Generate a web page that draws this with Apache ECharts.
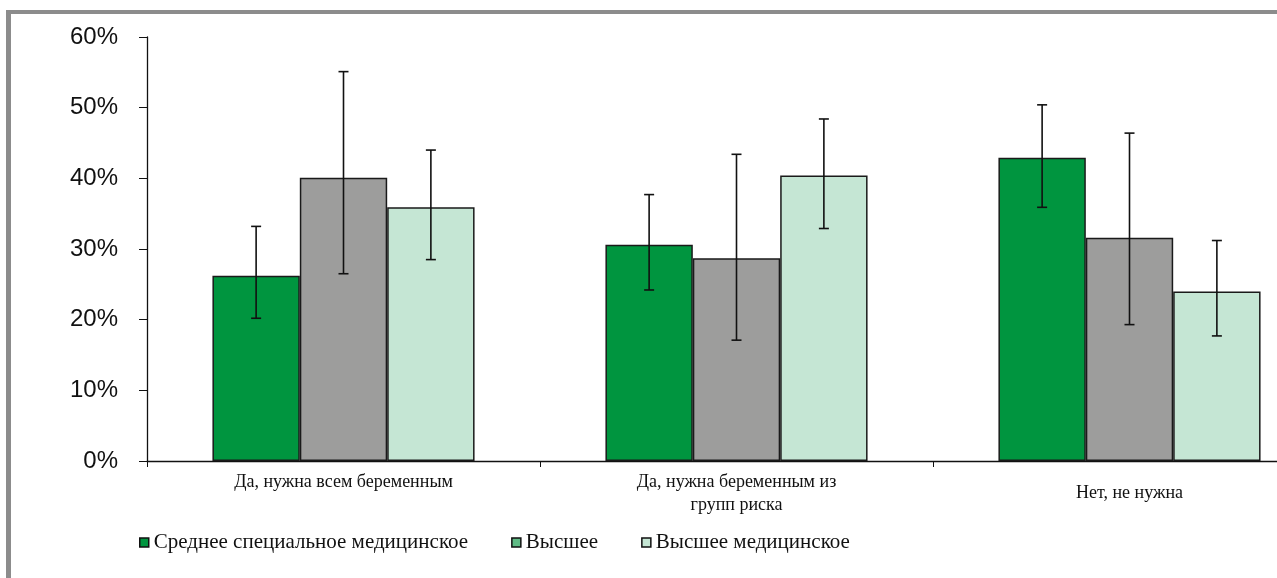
<!DOCTYPE html>
<html>
<head>
<meta charset="utf-8">
<script src="https://cdn.jsdelivr.net/npm/echarts@6/dist/echarts.min.js"></script>
<style>
  html, body { margin: 0; padding: 0; background: #fff; }
  #chart { width: 1277px; height: 578px; }
</style>
</head>
<body>
<div id="chart"></div>
<script>
// категории ответов
var categories = ['Да, нужна всем беременным', 'Да, нужна беременным из\nгрупп риска', 'Нет, не нужна'];
var seriesNames = ['Среднее специальное медицинское', 'Высшее', 'Высшее медицинское'];

// доли, %
var sredneeVals = [26.2, 30.6, 42.9];
var vyssheeVals = [40.1, 28.7, 31.6];
var vysMedVals  = [35.9, 40.4, 24.0];

// доверительные интервалы (низ, верх), %
var sredneeLow  = [20.2, 24.2, 35.9];
var sredneeHigh = [33.2, 37.7, 50.4];
var vyssheeLow  = [26.5, 17.1, 19.3];
var vyssheeHigh = [55.1, 43.4, 46.4];
var vysMedLow   = [28.5, 32.9, 17.7];
var vysMedHigh  = [44.0, 48.4, 31.2];

var yTicks = [0, 10, 20, 30, 40, 50, 60];

var colors = ['#00953f', '#9d9d9c', '#c5e6d4'];
var gapRatio = 0.333;

var chart = echarts.init(document.getElementById('chart'));

function errSeries(idx, lows, highs) {
    var data = [];
    for (var i = 0; i < lows.length; i++) {
        data.push([i, lows[i], highs[i]]);
    }
    return {
        type: 'custom',
        name: seriesNames[idx] + ' ош',
        silent: true,
        z: 10,
        clip: false,
        data: data,
        renderItem: function (params, api) {
            var cat = api.value(0);
            var catW = api.size([1, 0])[0];
            var barW = catW * (1 - gapRatio) / 3;
            var top = api.coord([cat, api.value(2)]);
            var bot = api.coord([cat, api.value(1)]);
            var x = top[0] + (idx - 1) * barW;
            var cap = 5;
            var st = { stroke: '#111', lineWidth: 1.6 };
            return {
                type: 'group',
                children: [
                    { type: 'line', shape: { x1: x, y1: top[1], x2: x, y2: bot[1] }, style: st },
                    { type: 'line', shape: { x1: x - cap, y1: top[1], x2: x + cap, y2: top[1] }, style: st },
                    { type: 'line', shape: { x1: x - cap, y1: bot[1], x2: x + cap, y2: bot[1] }, style: st }
                ]
            };
        }
    };
}

var barStyle = function (c) {
    return { color: c, borderColor: '#1a1a1a', borderWidth: 1.5 };
};

var option = {
    animation: false,
    backgroundColor: '#fff',
    graphic: [
        { type: 'rect', shape: { x: 6, y: 10, width: 1271, height: 4 }, style: { fill: '#8c8c8c' }, z: 100 },
        { type: 'rect', shape: { x: 6, y: 10, width: 5, height: 568 }, style: { fill: '#8c8c8c' }, z: 100 }
    ],
    grid: { left: 147, top: 37, height: 424, width: 1179, containLabel: false, outerBoundsMode: 'none' },
    legend: {
        left: 134,
        top: 527,
        icon: 'rect',
        itemWidth: 9,
        itemHeight: 9,
        itemGap: 43,
        selectedMode: false,
        textStyle: { fontFamily: 'Liberation Serif', fontSize: 21, color: '#111' },
        data: [
            { name: seriesNames[0], itemStyle: { color: '#00953f', borderColor: '#111', borderWidth: 1.5 } },
            { name: seriesNames[1], itemStyle: { color: '#5fbb85', borderColor: '#111', borderWidth: 1.5 } },
            { name: seriesNames[2], itemStyle: { color: '#c5e6d4', borderColor: '#111', borderWidth: 1.5 } }
        ]
    },
    xAxis: {
        type: 'category',
        data: [
            categories[0],
            categories[1],
            { value: categories[2], textStyle: { padding: [11, 0, 0, 0] } }
        ],
        axisLine: { lineStyle: { color: '#111', width: 1.3 } },
        axisTick: { show: true, length: 6, inside: false, alignWithLabel: false, lineStyle: { color: '#111' } },
        axisLabel: {
            margin: 10,
            interval: 0,
            fontFamily: 'Liberation Serif',
            fontSize: 18,
            lineHeight: 23,
            color: '#111'
        },
        splitLine: { show: false }
    },
    yAxis: {
        type: 'value',
        min: yTicks[0],
        max: yTicks[yTicks.length - 1],
        interval: 10,
        axisLine: { show: true, lineStyle: { color: '#111', width: 1.3 } },
        axisTick: { show: true, length: 8, lineStyle: { color: '#111' } },
        splitLine: { show: false },
        axisLabel: {
            margin: 29,
            fontFamily: 'Liberation Sans',
            fontSize: 24,
            color: '#111',
            formatter: function (v) { return v + '%'; }
        }
    },
    series: [
        { type: 'bar', name: seriesNames[0], data: sredneeVals, barGap: '0%', barCategoryGap: (gapRatio * 100) + '%', itemStyle: barStyle(colors[0]) },
        { type: 'bar', name: seriesNames[1], data: vyssheeVals, barGap: '0%', barCategoryGap: (gapRatio * 100) + '%', itemStyle: barStyle(colors[1]) },
        { type: 'bar', name: seriesNames[2], data: vysMedVals, barGap: '0%', barCategoryGap: (gapRatio * 100) + '%', itemStyle: barStyle(colors[2]) },
        errSeries(0, sredneeLow, sredneeHigh),
        errSeries(1, vyssheeLow, vyssheeHigh),
        errSeries(2, vysMedLow, vysMedHigh)
    ]
};

chart.setOption(option);
window.onresize = function () {
    chart.resize();
};
</script>
</body>
</html>
